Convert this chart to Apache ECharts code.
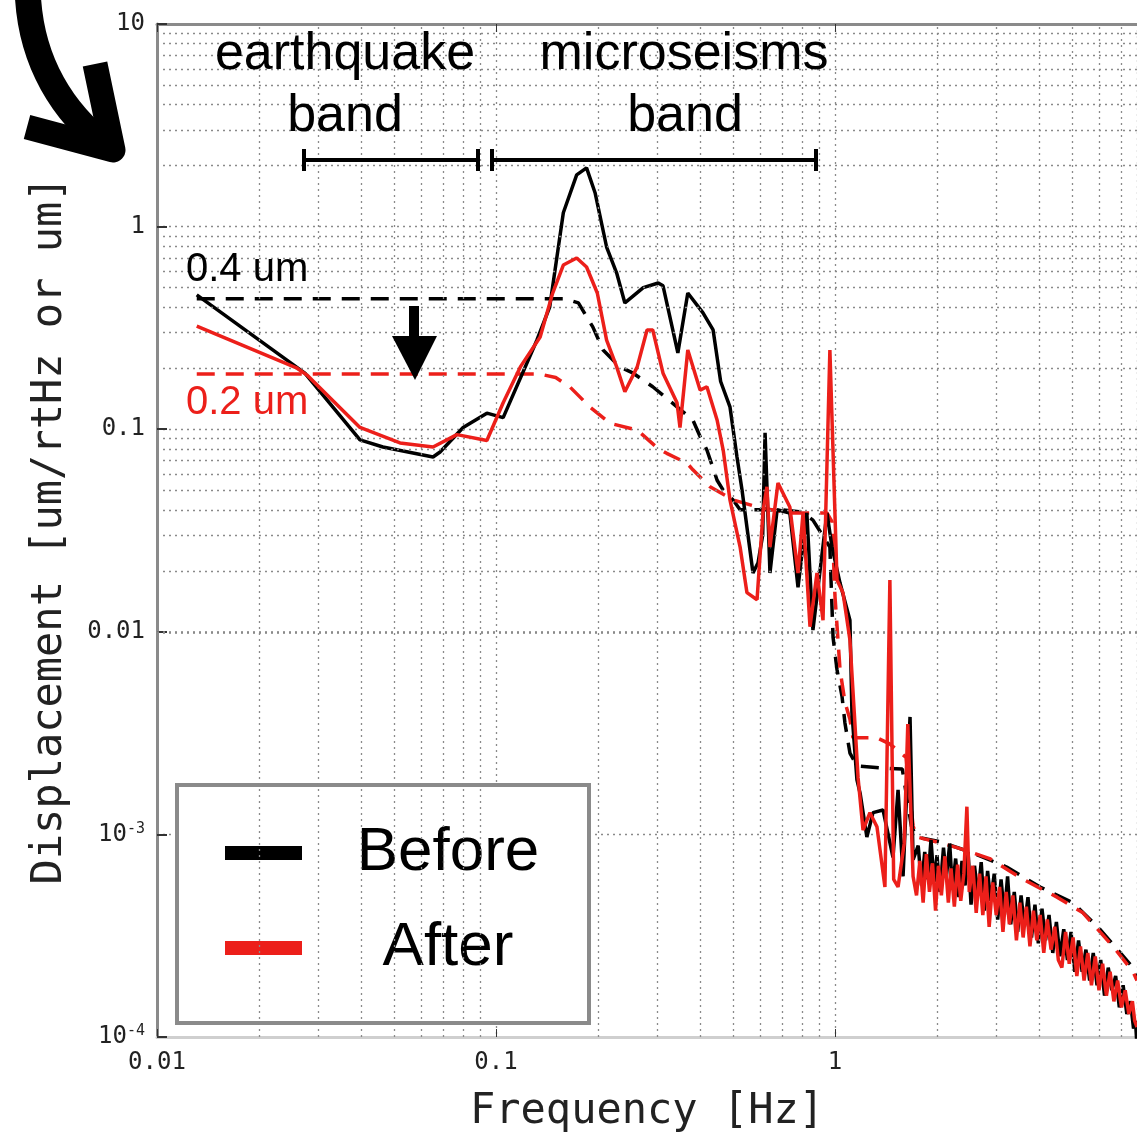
<!DOCTYPE html>
<html><head><meta charset="utf-8">
<script src="https://cdn.jsdelivr.net/npm/echarts@6/dist/echarts.min.js"></script>
<style>html,body{margin:0;padding:0;background:#fff}#c{width:1137px;height:1141px}</style>
</head><body><div id="c"></div>
<script>
// ---- data (frequency [Hz], displacement [um/rtHz or um]) ----
const before = [
[0.0131,0.46],[0.0273,0.189],[0.0397,0.0885],[0.0464,0.0817],[0.0652,0.0729],[0.0684,0.0772],[0.080,0.102],[0.094,0.12],[0.105,0.114],
[0.132,0.275],[0.144,0.40],[0.158,1.17],[0.173,1.80],[0.185,1.95],[0.196,1.47],[0.212,0.793],[0.227,0.59],[0.240,0.42],[0.272,0.50],
[0.301,0.527],[0.311,0.51],[0.344,0.238],[0.368,0.47],[0.408,0.375],[0.437,0.309],[0.46,0.172],[0.49,0.129],[0.514,0.073],[0.532,0.05],
[0.573,0.0195],[0.593,0.0219],[0.612,0.03],[0.622,0.096],[0.643,0.0195],[0.675,0.040],[0.736,0.0386],[0.778,0.0166],[0.826,0.0386],
[0.861,0.0102],[0.947,0.0386],[0.98,0.0262],[1.035,0.0174],[1.107,0.0114],[1.122,0.004],[1.161,0.00186],[1.186,0.0016],[1.242,0.00097],
[1.295,0.00128],[1.386,0.00132],[1.483,0.00077],[1.535,0.00166],[1.588,0.00062],[1.665,0.0038],[1.70,0.00075],
[1.76,0.00088],[1.80,0.00056],[1.84,0.00082],[1.88,0.00060],[1.92,0.00094],[1.96,0.00058],[2.00,0.00079],[2.04,0.00052],[2.09,0.00086],
[2.13,0.00061],[2.18,0.00090],[2.22,0.00054],[2.27,0.00076],[2.32,0.00049],[2.37,0.00074],[2.42,0.00056],[2.47,0.00082],[2.52,0.00045],
[2.58,0.00070],[2.64,0.00050],[2.70,0.00073],[2.76,0.00042],[2.82,0.00066],[2.88,0.00047],[2.95,0.00064],[3.02,0.00038],[3.09,0.00060],
[3.16,0.00040],[3.23,0.00062],[3.30,0.00036],[3.38,0.00052],[3.46,0.00033],[3.54,0.00050],[3.62,0.00035],[3.71,0.00049],[3.80,0.00031],
[3.89,0.00045],[3.98,0.00029],[4.08,0.00043],[4.18,0.00030],[4.28,0.00040],[4.39,0.00026],[4.50,0.00037],[4.61,0.00025],[4.73,0.00034],
[4.85,0.00024],[4.97,0.00033],[5.10,0.00021],[5.23,0.00030],[5.36,0.00021],[5.50,0.00027],[5.64,0.00019],[5.78,0.00026],[5.93,0.00018],
[6.08,0.00024],[6.24,0.00016],[6.40,0.00022],[6.56,0.00017],[6.73,0.00020],[6.90,0.00014],[7.08,0.00018],[7.26,0.00013],[7.44,0.00015],
[7.60,0.00011],[7.70,0.00012],[7.78,0.00009]
];
const after = [
[0.0131,0.323],[0.0259,0.200],[0.0277,0.185],[0.0397,0.102],[0.0521,0.0855],[0.0652,0.0817],[0.0767,0.094],[0.094,0.088],[0.105,0.135],
[0.118,0.203],[0.135,0.285],[0.147,0.47],[0.158,0.646],[0.173,0.70],[0.185,0.632],[0.199,0.47],[0.212,0.275],[0.227,0.203],[0.240,0.153],
[0.261,0.203],[0.279,0.309],[0.290,0.309],[0.311,0.189],[0.342,0.135],[0.349,0.102],[0.368,0.246],[0.400,0.156],[0.419,0.162],[0.449,0.111],
[0.468,0.0789],[0.49,0.0448],[0.525,0.0262],[0.55,0.0156],[0.589,0.0144],[0.614,0.0399],[0.630,0.0519],[0.643,0.0262],[0.679,0.0542],
[0.736,0.0413],[0.778,0.0195],[0.805,0.0386],[0.844,0.0106],[0.885,0.0195],[0.922,0.0114],[0.966,0.246],[1.014,0.018],[1.056,0.0156],
[1.107,0.0091],[1.14,0.004],[1.17,0.0019],[1.21,0.00105],[1.268,0.00128],[1.33,0.00109],[1.404,0.00055],[1.452,0.018],[1.49,0.0006],
[1.535,0.00055],[1.60,0.0009],[1.64,0.0035],[1.70,0.00062],
[1.74,0.00050],[1.78,0.00074],[1.82,0.00046],[1.86,0.00080],[1.90,0.00052],[1.94,0.00072],[1.98,0.00042],[2.02,0.00070],[2.06,0.00050],
[2.11,0.00078],[2.16,0.00046],[2.20,0.00068],[2.25,0.00044],[2.30,0.00071],[2.35,0.00047],[2.40,0.00064],[2.45,0.00137],[2.49,0.00052],
[2.55,0.00070],[2.61,0.00041],[2.67,0.00064],[2.73,0.00040],[2.79,0.00062],[2.85,0.00035],[2.92,0.00058],[2.99,0.00040],[3.06,0.00055],
[3.13,0.00033],[3.20,0.00052],[3.27,0.00036],[3.35,0.00050],[3.43,0.00030],[3.51,0.00046],[3.59,0.00031],[3.67,0.00044],[3.76,0.00028],
[3.85,0.00042],[3.94,0.00030],[4.03,0.00040],[4.13,0.00026],[4.23,0.00038],[4.34,0.00027],[4.45,0.00035],[4.56,0.00024],[4.67,0.00022],
[4.79,0.00033],[4.91,0.00023],[5.04,0.00031],[5.17,0.00020],[5.30,0.00028],[5.43,0.00019],[5.57,0.00026],[5.71,0.00018],[5.86,0.00025],
[6.01,0.00017],[6.16,0.00023],[6.32,0.00016],[6.48,0.00021],[6.65,0.00015],[6.82,0.00019],[7.00,0.00014],[7.18,0.00017],[7.36,0.00013],
[7.54,0.00015],[7.66,0.00012],[7.78,0.000112]
];
const beforeRms = [
[0.0131,0.44],[0.16,0.44],[0.175,0.42],[0.193,0.32],[0.207,0.246],[0.232,0.203],[0.254,0.189],[0.29,0.162],[0.342,0.129],[0.381,0.111],
[0.40,0.092],[0.419,0.079],[0.449,0.056],[0.468,0.050],[0.50,0.0448],[0.525,0.040],[0.70,0.040],[0.80,0.039],[0.861,0.0356],[0.966,0.0262],
[0.987,0.0094],[1.014,0.0065],[1.049,0.0048],[1.07,0.00355],[1.107,0.00252],[1.161,0.00218],[1.358,0.00213],[1.58,0.0021],[1.68,0.0011],
[1.745,0.00097],[2.04,0.00092],[2.55,0.00081],[3.21,0.00069],[4.03,0.00055],[5.04,0.00046],[6.05,0.00034],[7.57,0.00022],[7.78,0.0002]
];
const afterRms = [
[0.0131,0.187],[0.135,0.187],[0.150,0.18],[0.165,0.162],[0.189,0.129],[0.217,0.107],[0.261,0.099],[0.299,0.081],[0.319,0.076],[0.366,0.068],
[0.381,0.063],[0.428,0.052],[0.50,0.0448],[0.60,0.041],[0.736,0.0386],[0.947,0.0386],[0.98,0.035],[1.0,0.015],[1.035,0.0065],[1.07,0.0045],
[1.107,0.0037],[1.13,0.0030],[1.33,0.0030],[1.45,0.0028],[1.62,0.0024],[1.70,0.0011],[1.745,0.00097],[2.04,0.00091],[2.29,0.00086],
[2.86,0.00076],[3.59,0.0006],[4.52,0.00049],[5.39,0.00041],[6.61,0.00028],[7.57,0.00021],[7.78,0.00019]
];
const xMinorGrid = [0.02,0.03,0.04,0.05,0.06,0.07,0.08,0.09,0.2,0.3,0.4,0.5,0.6,0.7,0.8,0.9,2,3,4,5,6,7];
const yMinorGrid = [0.0002,0.0003,0.0004,0.0005,0.0006,0.0007,0.0008,0.0009,0.002,0.003,0.004,0.005,0.006,0.007,0.008,0.009,
  0.02,0.03,0.04,0.05,0.06,0.07,0.08,0.09,0.2,0.3,0.4,0.5,0.6,0.7,0.8,0.9,2,3,4,5,6,7,8,9];
const legendNames = ['Before','After'];
const xRange = [0.01, 7.78];
const yRange = [0.0001, 10];
const bandLabels = [['earthquake','band'],['microseisms','band']];
const levelLabels = ['0.4 um','0.2 um'];

const BLACK = '#000000', RED = '#ec1f1a';
const MONO = '"DejaVu Sans Mono", monospace';
const SANS = '"Liberation Sans", Arial, sans-serif';

function decadeLabel(v){
  const e = Math.round(Math.log10(v));
  if (Math.abs(Math.log10(v) - e) > 1e-6) return '';
  return e >= 0 ? String(Math.pow(10,e)) : Math.pow(10,e).toFixed(-e);
}
function yLabel(v){
  const e = Math.round(Math.log10(v));
  if (Math.abs(Math.log10(v) - e) > 1e-6) return '';
  if (e >= -2) return '{b|' + decadeLabel(v) + '}';
  return '{b|10}{s|' + e + '}';
}

const chart = echarts.init(document.getElementById('c'));
const gridDot = {type:[2,4], color:'#8a8a8a', width:1.3};
chart.setOption({
  animation:false,
  backgroundColor:'#fff',
  grid:{left:157, top:24, right:0, bottom:104, containLabel:false},
  xAxis:[{
    type:'log', logBase:10, min:xRange[0], max:xRange[1],
    name:'Frequency [Hz]', nameLocation:'middle', nameGap:54,
    nameTextStyle:{fontFamily:MONO, fontSize:42, color:'#222'},
    axisLine:{show:true, lineStyle:{color:'#cfcfcf', width:3}},
    axisTick:{show:true, inside:true, length:8, lineStyle:{color:'#333'}},
    axisLabel:{formatter:decadeLabel, fontFamily:MONO, fontSize:24, color:'#222', margin:14, showMaxLabel:false},
    splitLine:{show:true, lineStyle:gridDot}
  },{
    type:'log', logBase:10, min:xRange[0], max:xRange[1], position:'top',
    axisLine:{show:true, lineStyle:{color:'#8a8a8a', width:3}},
    axisTick:{show:true, inside:true, length:8, lineStyle:{color:'#333'}},
    axisLabel:{show:false}, splitLine:{show:false}
  }],
  yAxis:{
    type:'log', logBase:10, min:yRange[0], max:yRange[1],
    name:'Displacement [um/rtHz or um]', nameLocation:'middle', nameGap:86, nameRotate:90,
    nameTextStyle:{fontFamily:MONO, fontSize:42, color:'#222'},
    axisLine:{show:true, lineStyle:{color:'#8a8a8a', width:3}},
    axisTick:{show:true, inside:true, length:10, lineStyle:{color:'#333', width:2}},
    axisLabel:{formatter:yLabel, margin:12, color:'#222',
      rich:{b:{fontFamily:MONO, fontSize:24, color:'#222', lineHeight:26},
            s:{fontFamily:MONO, fontSize:15, color:'#222', verticalAlign:'top', lineHeight:15}}},
    splitLine:{show:true, lineStyle:gridDot}
  },
  legend:{
    data:legendNames, left:177, top:785, orient:'vertical', icon:'rect',
    itemWidth:77, itemHeight:14, itemGap:33, padding:[37,0,44,48],
    borderColor:'#8a8a8a', borderWidth:4, backgroundColor:'#fff', selectedMode:false,
    formatter:n => '{t|' + n + '}',
    textStyle:{rich:{t:{fontFamily:SANS, fontSize:62, color:'#000', width:282, align:'center', lineHeight:70}}}
  },
  series:[
    {type:'line', name:'grid', data:[], z:1, silent:true, symbol:'none',
     markLine:{silent:true, symbol:['none','none'], label:{show:false},
       lineStyle:gridDot, animation:false,
       data: xMinorGrid.map(v => ({xAxis:v})).concat(yMinorGrid.map(v => ({yAxis:v})))}},
    {type:'line', name:'Before RMS', data:beforeRms, symbol:'none', z:3,
     lineStyle:{color:BLACK, width:3.5, type:[18,11]}, itemStyle:{color:BLACK}},
    {type:'line', name:'After RMS', data:afterRms, symbol:'none', z:3,
     lineStyle:{color:RED, width:3.5, type:[18,11]}, itemStyle:{color:RED}},
    {type:'line', name:'Before', data:before, symbol:'none', z:4,
     lineStyle:{color:BLACK, width:3.5}, itemStyle:{color:BLACK}},
    {type:'line', name:'After', data:after, symbol:'none', z:5,
     lineStyle:{color:RED, width:3.5}, itemStyle:{color:RED}}
  ],
  graphic:[
    {type:'text', z:100, style:{text:bandLabels[0][0], x:345, y:55, align:'center', verticalAlign:'middle', font:'52px ' + SANS, fill:'#000'}},
    {type:'text', z:100, style:{text:bandLabels[0][1], x:345, y:117, align:'center', verticalAlign:'middle', font:'52px ' + SANS, fill:'#000'}},
    {type:'text', z:100, style:{text:bandLabels[1][0], x:684, y:55, align:'center', verticalAlign:'middle', font:'52px ' + SANS, fill:'#000'}},
    {type:'text', z:100, style:{text:bandLabels[1][1], x:685, y:117, align:'center', verticalAlign:'middle', font:'52px ' + SANS, fill:'#000'}},
    {type:'polyline', z:100, shape:{points:[[304,149],[304,171]]}, style:{stroke:'#000', lineWidth:4}},
    {type:'polyline', z:100, shape:{points:[[304,160],[478,160]]}, style:{stroke:'#000', lineWidth:4}},
    {type:'polyline', z:100, shape:{points:[[478,149],[478,171]]}, style:{stroke:'#000', lineWidth:4}},
    {type:'polyline', z:100, shape:{points:[[492,149],[492,171]]}, style:{stroke:'#000', lineWidth:4}},
    {type:'polyline', z:100, shape:{points:[[492,160],[816,160]]}, style:{stroke:'#000', lineWidth:4}},
    {type:'polyline', z:100, shape:{points:[[816,149],[816,171]]}, style:{stroke:'#000', lineWidth:4}},
    {type:'text', z:100, style:{text:levelLabels[0], x:186, y:270, align:'left', verticalAlign:'middle', font:'40px ' + SANS, fill:'#000'}},
    {type:'text', z:100, style:{text:levelLabels[1], x:186, y:403, align:'left', verticalAlign:'middle', font:'40px ' + SANS, fill:RED}},
    {type:'rect', z:100, shape:{x:409, y:306, width:10, height:34}, style:{fill:'#000'}},
    {type:'polygon', z:100, shape:{points:[[392,336],[437,336],[415,380]]}, style:{fill:'#000'}},
    {type:'bezierCurve', z:100, shape:{x1:28, y1:-2, cpx1:32, cpy1:62, cpx2:62, cpy2:112, x2:108, y2:147}, style:{stroke:'#000', lineWidth:26, fill:null}},
    {type:'polyline', z:100, shape:{points:[[95,64],[113,150],[27,127]]}, style:{stroke:'#000', lineWidth:25, lineJoin:'round'}}
  ]
});
</script></body></html>
